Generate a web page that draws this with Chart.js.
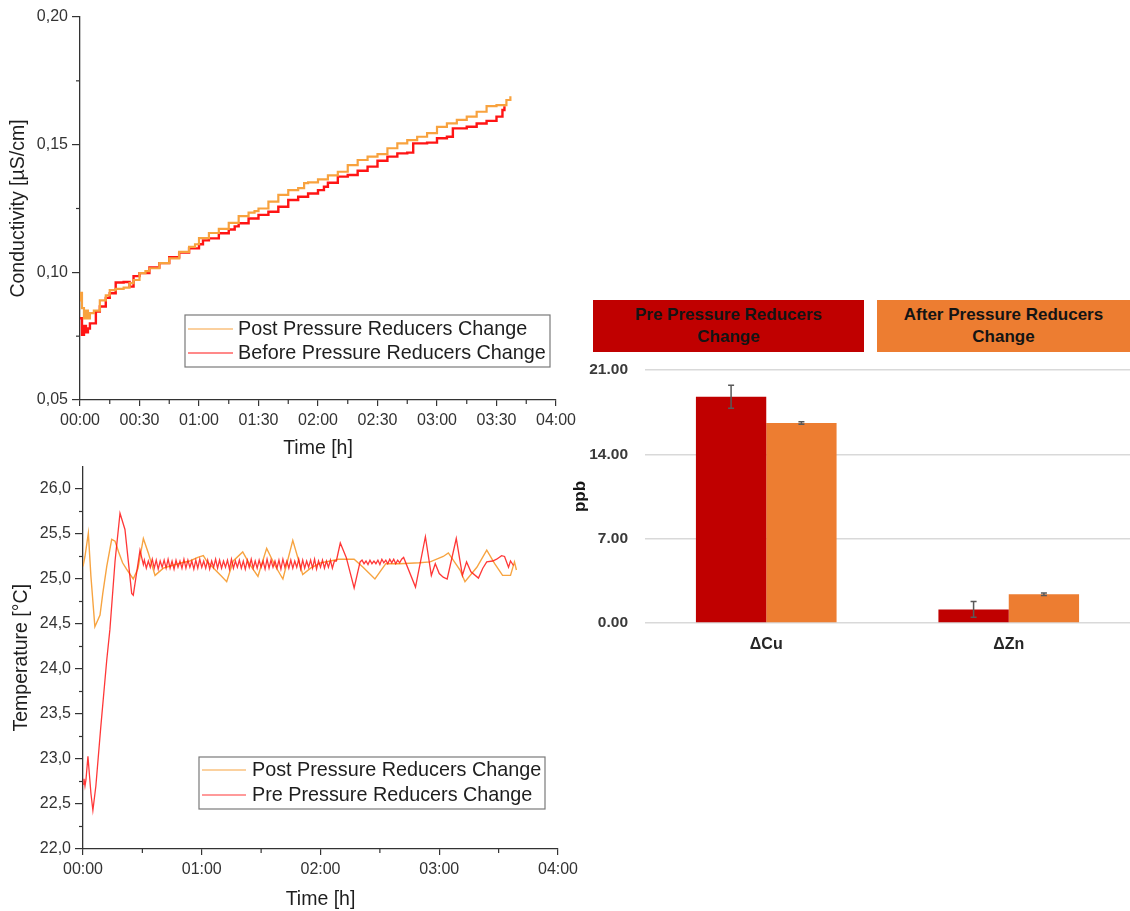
<!DOCTYPE html>
<html>
<head>
<meta charset="utf-8">
<script src="https://cdn.jsdelivr.net/npm/chart.js@4.4.0/dist/chart.umd.min.js"></script>
<style>
  body { margin: 0; background: #fff; width: 1130px; height: 911px; position: relative; overflow: hidden; }
  .panel { position: absolute; }
  .series-head {
    position: absolute; top: 300px; height: 52px;
    display: flex; align-items: center; justify-content: center; text-align: center;
    font: bold 17px "Liberation Sans", Arial, sans-serif; color: #141414; line-height: 22px;
  }
</style>
</head>
<body>
<div class="panel" style="left:0;top:0"><canvas id="cond-chart" width="590" height="460"></canvas></div>
<div class="panel" style="left:0;top:460px"><canvas id="temp-chart" width="590" height="451"></canvas></div>
<div class="panel" style="left:570px;top:355px"><canvas id="metal-chart" width="560" height="305"></canvas></div>
<div id="metal-heads"></div>

<script>
// Conductivity run (time in minutes)
const condPostTime = [0, 0.5, 1, 2, 3, 4, 5, 7, 10, 13, 15, 18, 22, 25, 27, 30, 33, 35, 40, 45, 50, 55, 58, 60, 65, 70, 75, 80, 85, 88, 90, 95, 100, 105, 110, 113, 115, 120, 125, 130, 135, 140, 145, 150, 155, 160, 165, 170, 175, 180, 185, 190, 195, 200, 205, 210, 215, 217];
const condPost = [0.089, 0.092, 0.086, 0.082, 0.085, 0.082, 0.084, 0.085, 0.089, 0.091, 0.093, 0.0935, 0.094, 0.0958, 0.097, 0.0997, 0.1005, 0.1016, 0.1036, 0.1055, 0.108, 0.110, 0.111, 0.1134, 0.1154, 0.117, 0.1194, 0.122, 0.1234, 0.124, 0.125, 0.1277, 0.1303, 0.1322, 0.133, 0.1349, 0.1352, 0.1364, 0.138, 0.1394, 0.142, 0.144, 0.1453, 0.1463, 0.1486, 0.1505, 0.1518, 0.1531, 0.1545, 0.157, 0.1583, 0.1597, 0.161, 0.1629, 0.1651, 0.1655, 0.1675, 0.169];
const condPreTime = [0, 1, 2, 3, 4, 5, 8, 10, 13, 15, 18, 22, 25, 27, 30, 35, 40, 45, 50, 55, 60, 62, 65, 70, 75, 78, 80, 85, 90, 95, 100, 105, 110, 115, 120, 123, 125, 130, 135, 140, 145, 150, 155, 160, 165, 168, 175, 180, 185, 188, 195, 200, 205, 210, 213, 214];
const condPre = [0.082, 0.0755, 0.079, 0.0765, 0.078, 0.080, 0.0846, 0.0866, 0.090, 0.0918, 0.096, 0.0962, 0.0944, 0.0985, 0.0997, 0.1019, 0.1036, 0.1059, 0.1077, 0.1094, 0.111, 0.1125, 0.1133, 0.1153, 0.1168, 0.118, 0.1192, 0.1211, 0.1225, 0.1237, 0.1257, 0.1283, 0.1296, 0.1309, 0.1322, 0.1335, 0.1351, 0.1375, 0.1381, 0.1398, 0.1414, 0.1437, 0.1453, 0.1466, 0.1469, 0.1505, 0.1508, 0.1525, 0.1531, 0.1564, 0.157, 0.1583, 0.1593, 0.161, 0.1636, 0.165];

// Temperature run (time in minutes)
const tempPostTime = [0, 1, 2.7, 4, 6, 8.6, 10, 12, 14.5, 16.2, 18, 20, 22, 25.4, 27.8, 30.5, 33, 36.4, 40.6, 45, 50, 54, 58, 60.8, 62.5, 66, 70, 72.6, 75.9, 80.7, 84, 88.4, 92.8, 97, 101, 106, 111, 115, 120, 125, 129, 137, 141.5, 147.5, 153, 160, 170, 175.4, 182, 184.6, 190.5, 193, 199, 204, 208, 212, 216, 218, 219];
const tempPost = [25.14, 25.25, 25.51, 25.03, 24.47, 24.6, 24.84, 25.14, 25.44, 25.42, 25.3, 25.18, 25.11, 25.0, 25.12, 25.45, 25.29, 25.04, 25.12, 25.15, 25.18, 25.2, 25.24, 25.26, 25.2, 25.12, 25.03, 24.97, 25.2, 25.3, 25.17, 25.03, 25.34, 25.15, 25.0, 25.43, 25.05, 25.12, 25.18, 25.2, 25.22, 25.22, 25.13, 25.0, 25.17, 25.17, 25.18, 25.19, 25.25, 25.29, 25.1, 24.97, 25.13, 25.32, 25.17, 25.04, 25.04, 25.19, 25.1];
const tempPreTime = [0, 0.5, 1, 1.5, 2.5, 4, 5, 6.5, 9, 12, 13.6, 16.2, 18.7, 21.2, 24.6, 25.4, 28.8, 30.5,
  31, 32, 33, 34, 35, 36, 37, 38, 39, 40, 41, 42, 43, 44, 45, 46, 47, 48, 49, 50,
  51, 52, 53, 54, 55, 56, 57, 58, 59, 60, 61, 62, 63, 64, 65, 66, 67, 68, 69, 70,
  71, 72, 73, 74, 75, 76, 77, 78, 79, 80, 81, 82, 83, 84, 85, 86, 87, 88, 89, 90,
  91, 92, 93, 94, 95, 96, 97, 98, 99, 100, 101, 102, 103, 104, 105, 106, 107, 108, 109, 110,
  111, 112, 113, 114, 115, 116, 117, 118, 119, 120, 121, 122, 123, 124, 125, 126, 127,
  128, 130, 133, 137, 140,
  141, 142, 143, 144, 145, 146, 147, 148, 149, 150, 151, 152, 153, 154, 155, 156, 157, 158, 159, 160, 161,
  162, 168, 173, 176, 178, 180, 182, 184, 188.6, 191.7, 193.8, 196, 199.8, 202, 204, 207, 209, 211.5, 213, 215, 216, 217.5];
const tempPre = [22.72, 22.78, 22.7, 22.77, 23.03, 22.62, 22.43, 22.7, 23.36, 24.1, 24.44, 25.2, 25.73, 25.55, 24.84, 24.82, 25.32, 25.16,
  25.21, 25.12, 25.2, 25.13, 25.22, 25.12, 25.21, 25.11, 25.2, 25.13,
  25.21, 25.12, 25.22, 25.12, 25.2, 25.11, 25.21, 25.13, 25.2, 25.12,
  25.22, 25.12, 25.21, 25.13, 25.2, 25.11, 25.21, 25.12, 25.22, 25.13,
  25.2, 25.12, 25.21, 25.11, 25.2, 25.13, 25.22, 25.12, 25.21, 25.12,
  25.2, 25.13, 25.21, 25.11, 25.22, 25.12, 25.2, 25.13, 25.21, 25.12,
  25.2, 25.11, 25.21, 25.13, 25.22, 25.12, 25.2, 25.12, 25.21, 25.13,
  25.2, 25.11, 25.22, 25.12, 25.21, 25.13, 25.2, 25.12, 25.21, 25.11,
  25.22, 25.13, 25.2, 25.12, 25.21, 25.12, 25.2, 25.13, 25.22, 25.11,
  25.21, 25.12, 25.2, 25.13, 25.21, 25.12, 25.22, 25.11, 25.2, 25.13,
  25.21, 25.12, 25.2, 25.13, 25.21, 25.12, 25.2,
  25.2, 25.4, 25.24, 24.9, 25.19,
  25.21, 25.17, 25.2, 25.16, 25.21, 25.17, 25.2, 25.17, 25.21, 25.16, 25.22, 25.18, 25.21, 25.17, 25.22, 25.18, 25.22, 25.17, 25.21, 25.18, 25.22,
  25.24, 24.91, 25.47, 25.04, 25.17, 25.06, 25.02, 25.0, 25.45, 25.04, 25.19, 25.08, 25.01, 25.12, 25.19, 25.2, 25.22, 25.26, 25.25, 25.13, 25.2, 25.15];

// Dissolved metal release, ppb
const metalNames = ['ΔCu', 'ΔZn'];
const metalPre = [18.78, 1.13];
const metalPreErr = [0.95, 0.66];
const metalAfter = [16.6, 2.38];
const metalAfterErr = [0.1, 0.1];

const condTicks = [0.05, 0.20, 0.05];
const tempTicks = [22, 26.25, 0.5];
const metalTicks = [0, 21, 7];

const lineFont = '"Liberation Sans", Arial, sans-serif';
const axisInk = '#333';

function toPoints(times, values) {
  return times.map((t, i) => ({ x: t, y: values[i] }));
}

function clockLabel(v) {
  const h = Math.floor(v / 60);
  const m = v % 60;
  return String(h).padStart(2, '0') + ':' + String(m).padStart(2, '0');
}

// short unlabelled ticks halfway between the labelled ones
const minorTicks = {
  id: 'minorTicks',
  afterDraw(chart) {
    const ctx = chart.ctx;
    const area = chart.chartArea;
    ctx.save();
    ctx.strokeStyle = axisInk;
    ctx.lineWidth = 1.2;
    ['x', 'y'].forEach(id => {
      const scale = chart.scales[id];
      const vals = scale.ticks.map(t => t.value);
      for (let i = 0; i < vals.length - 1; i++) {
        const p = scale.getPixelForValue((vals[i] + vals[i + 1]) / 2);
        ctx.beginPath();
        if (id === 'x') {
          ctx.moveTo(p, area.bottom);
          ctx.lineTo(p, area.bottom + 4);
        } else {
          ctx.moveTo(area.left, p);
          ctx.lineTo(area.left - 4, p);
        }
        ctx.stroke();
      }
    });
    ctx.restore();
  }
};

// framed legend placed inside the plot
const boxLegend = {
  id: 'boxLegend',
  afterDraw(chart, args, opts) {
    const ctx = chart.ctx;
    ctx.save();
    ctx.fillStyle = '#fff';
    ctx.fillRect(opts.left, opts.top, opts.width, opts.height);
    ctx.strokeStyle = '#7a7a7a';
    ctx.lineWidth = 1.2;
    ctx.strokeRect(opts.left, opts.top, opts.width, opts.height);
    ctx.font = '19.8px ' + lineFont;
    ctx.textBaseline = 'middle';
    chart.data.datasets.forEach((ds, i) => {
      const y = opts.top + opts.firstRow + i * opts.rowGap;
      ctx.strokeStyle = ds.borderColor;
      ctx.lineWidth = 1.2;
      ctx.beginPath();
      ctx.moveTo(opts.left + 3, y);
      ctx.lineTo(opts.left + 3 + opts.lineLen, y);
      ctx.stroke();
      ctx.fillStyle = '#1e1e1e';
      ctx.fillText(ds.label, opts.left + opts.textX, y + 1);
    });
    ctx.restore();
  }
};

// whiskers for the bar chart
const errorBars = {
  id: 'errorBars',
  afterDatasetsDraw(chart) {
    const ctx = chart.ctx;
    const y = chart.scales.y;
    ctx.save();
    ctx.strokeStyle = '#595959';
    ctx.lineWidth = 1.5;
    chart.data.datasets.forEach((ds, i) => {
      chart.getDatasetMeta(i).data.forEach((bar, j) => {
        const top = y.getPixelForValue(ds.data[j] + ds.errors[j]);
        const bot = y.getPixelForValue(ds.data[j] - ds.errors[j]);
        ctx.beginPath();
        ctx.moveTo(bar.x, top); ctx.lineTo(bar.x, bot);
        ctx.moveTo(bar.x - 3, top); ctx.lineTo(bar.x + 3, top);
        ctx.moveTo(bar.x - 3, bot); ctx.lineTo(bar.x + 3, bot);
        ctx.stroke();
      });
    });
    ctx.restore();
  }
};

function timeAxis(step, plotBottomGap) {
  return {
    type: 'linear',
    min: 0,
    max: 240,
    ticks: {
      stepSize: step,
      callback: clockLabel,
      font: { family: lineFont, size: 16 },
      color: axisInk,
      padding: 5,
      maxRotation: 0,
      autoSkip: false
    },
    grid: { drawOnChartArea: false, tickLength: 6, color: axisInk, lineWidth: 1.2 },
    border: { color: axisInk, width: 1.3 },
    title: {
      display: true,
      text: 'Time [h]',
      font: { family: lineFont, size: 19.5 },
      color: '#1e1e1e',
      padding: { top: 0, bottom: 0 }
    },
    afterFit: s => { s.height = plotBottomGap; }
  };
}

function valueAxis(range, digits, title, axisWidth, titleGap) {
  return {
    min: range[0],
    max: range[1],
    ticks: {
      stepSize: range[2],
      includeBounds: false,
      callback: v => {
        const r = v / range[2];
        if (Math.abs(r - Math.round(r)) > 1e-6) return '';
        return v.toFixed(digits).replace('.', ',');
      },
      font: { family: lineFont, size: 16 },
      color: axisInk,
      padding: 4
    },
    grid: { drawOnChartArea: false, tickLength: 8, color: axisInk, lineWidth: 1.2 },
    border: { color: axisInk, width: 1.3 },
    title: {
      display: true,
      text: title,
      font: { family: lineFont, size: 19.5 },
      color: '#1e1e1e',
      padding: { top: titleGap, bottom: 0 }
    },
    afterFit: s => {
      s.width = axisWidth;
      // the top of the axis is set by layout padding alone
      s.paddingTop = 0;
    }
  };
}

// Conductivity
new Chart(document.getElementById('cond-chart'), {
  type: 'line',
  data: {
    datasets: [
      {
        label: 'Post Pressure Reducers Change',
        data: toPoints(condPostTime, condPost),
        borderColor: '#F8A23E',
        borderWidth: 2.2,
        stepped: true
      },
      {
        label: 'Before Pressure Reducers Change',
        data: toPoints(condPreTime, condPre),
        borderColor: '#FF1414',
        borderWidth: 2.4,
        stepped: true
      }
    ]
  },
  options: {
    responsive: false,
    animation: false,
    layout: { padding: { top: 17, right: 34, left: 0, bottom: 0 } },
    elements: { point: { radius: 0 } },
    scales: {
      x: timeAxis(30, 60),
      y: valueAxis(condTicks, 2, 'Conductivity [µS/cm]', 80, 7)
    },
    plugins: {
      legend: { display: false },
      tooltip: { enabled: false },
      boxLegend: { left: 185, top: 315, width: 365, height: 52, firstRow: 14, rowGap: 24, lineLen: 45, textX: 53 }
    }
  },
  plugins: [minorTicks, boxLegend]
});

// Temperature
new Chart(document.getElementById('temp-chart'), {
  type: 'line',
  data: {
    datasets: [
      {
        label: 'Post Pressure Reducers Change',
        data: toPoints(tempPostTime, tempPost),
        borderColor: '#F7A441',
        borderWidth: 1.4,
        order: 2
      },
      {
        label: 'Pre Pressure Reducers Change',
        data: toPoints(tempPreTime, tempPre),
        borderColor: 'rgba(255, 20, 20, 0.85)',
        borderWidth: 1.3,
        order: 1
      }
    ]
  },
  options: {
    responsive: false,
    animation: false,
    layout: { padding: { top: 6.5, right: 32, left: 0, bottom: 0 } },
    elements: { point: { radius: 0 }, line: { tension: 0 } },
    scales: {
      x: timeAxis(60, 62),
      y: valueAxis(tempTicks, 1, 'Temperature [°C]', 83, 10)
    },
    plugins: {
      legend: { display: false },
      tooltip: { enabled: false },
      boxLegend: { left: 199, top: 297, width: 346, height: 52, firstRow: 13, rowGap: 25, lineLen: 44, textX: 53 }
    }
  },
  plugins: [minorTicks, boxLegend]
});

// Metal release bars
const metalChart = new Chart(document.getElementById('metal-chart'), {
  type: 'bar',
  data: {
    labels: metalNames,
    datasets: [
      {
        label: 'Pre Pressure Reducers Change',
        data: metalPre,
        errors: metalPreErr,
        backgroundColor: '#C00000'
      },
      {
        label: 'After Pressure Reducers Change',
        data: metalAfter,
        errors: metalAfterErr,
        backgroundColor: '#ED7D31'
      }
    ]
  },
  options: {
    responsive: false,
    animation: false,
    layout: { padding: { top: 15, right: 0, left: 0, bottom: 0 } },
    datasets: { bar: { categoryPercentage: 0.58, barPercentage: 1.0 } },
    scales: {
      x: {
        grid: { display: false },
        border: { display: false },
        ticks: { font: { family: lineFont, size: 16, weight: 'bold' }, color: '#262626', padding: 4 },
        afterFit: s => { s.height = 37; }
      },
      y: {
        min: metalTicks[0],
        max: metalTicks[1],
        ticks: {
          stepSize: metalTicks[2],
          callback: v => v.toFixed(2),
          font: { family: lineFont, size: 15.5, weight: 'bold' },
          color: '#3a3a3a',
          padding: 2
        },
        grid: { color: '#d9d9d9', lineWidth: 1.5, drawTicks: true, tickLength: 15, tickColor: 'rgba(0,0,0,0)' },
        border: { display: false },
        title: {
          display: true,
          text: 'ppb',
          font: { family: lineFont, size: 17, weight: 'bold' },
          color: '#141414',
          padding: 0
        },
        afterFit: s => { s.width = 75; }
      }
    },
    plugins: {
      legend: { display: false },
      tooltip: { enabled: false }
    }
  },
  plugins: [errorBars]
});

// Series header boxes above the bars
const headSlots = [{ left: 593, width: 271 }, { left: 877, width: 253 }];
const headHolder = document.getElementById('metal-heads');
metalChart.data.datasets.forEach((ds, i) => {
  const div = document.createElement('div');
  div.className = 'series-head';
  div.style.left = headSlots[i].left + 'px';
  div.style.width = headSlots[i].width + 'px';
  div.style.background = ds.backgroundColor;
  div.innerHTML = ds.label.replace(' Change', '<br>Change');
  headHolder.appendChild(div);
});
</script>
</body>
</html>
